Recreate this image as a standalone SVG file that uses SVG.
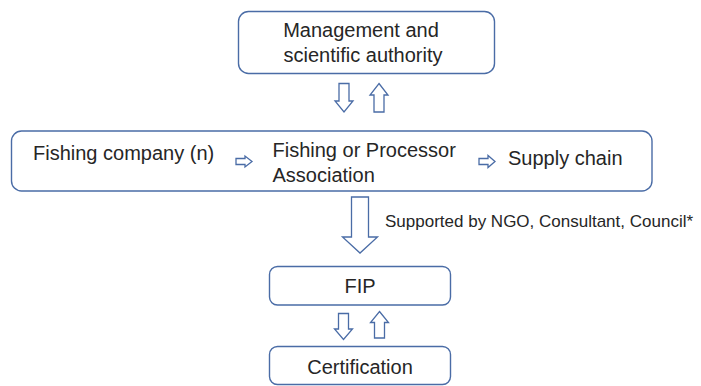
<svg xmlns="http://www.w3.org/2000/svg" width="701" height="386" viewBox="0 0 701 386">
<style>
.box{fill:#fff;stroke:#4a6ca6;stroke-width:1.4}
.arr{fill:#fff;stroke:#4a6ca6;stroke-width:1.3;stroke-linejoin:miter}
text{font-family:"Liberation Sans",Arial,sans-serif;fill:#262626;font-size:20px}
.c{text-anchor:middle}
.s{font-size:17px}
</style>
<rect width="701" height="386" fill="#fff"/>
<g id="authority">
<rect class="box" x="238.5" y="11.5" width="256" height="62" rx="10"/>
<text class="c" x="361" y="37">Management and</text>
<text class="c" x="363" y="62">scientific authority</text>
</g>
<g id="industry">
<rect class="box" x="11.5" y="131" width="640.5" height="60" rx="10"/>
<text x="33" y="160">Fishing company (n)</text>
<text x="272.5" y="157">Fishing or Processor</text>
<text x="272.5" y="182">Association</text>
<text x="508" y="165">Supply chain</text>
</g>
<g id="fip">
<rect class="box" x="269.5" y="266.5" width="181" height="38.5" rx="8"/>
<text class="c" x="360" y="292.5">FIP</text>
</g>
<g id="certification">
<rect class="box" x="269.5" y="346.5" width="181" height="38" rx="8"/>
<text class="c" x="360" y="373.5">Certification</text>
</g>
<g id="connectors">
<polygon class="arr" points="339,83.5 349,83.5 349,101 353,101 344,112 335,101 339,101"/>
<polygon class="arr" points="379,83.5 388,95 384,95 384,112 374,112 374,95 370,95"/>
<polygon class="arr" points="236,158.5 245,158.5 245,156 252,161.5 245,167 245,164.5 236,164.5"/>
<polygon class="arr" points="479,158.5 488,158.5 488,155.5 495,161.5 488,167.5 488,164.5 479,164.5"/>
<polygon class="arr" points="351.5,197 368.5,197 368.5,237 377.5,237 360,253 342.5,237 351.5,237"/>
<text class="s" x="385" y="227">Supported by NGO, Consultant, Council*</text>
<polygon class="arr" points="338.5,313.5 348.5,313.5 348.5,329 352.5,329 343.5,339.5 334.5,329 338.5,329"/>
<polygon class="arr" points="379.5,311.5 388.5,322.5 384.5,322.5 384.5,338 374.5,338 374.5,322.5 370.5,322.5"/>
</g>
</svg>
